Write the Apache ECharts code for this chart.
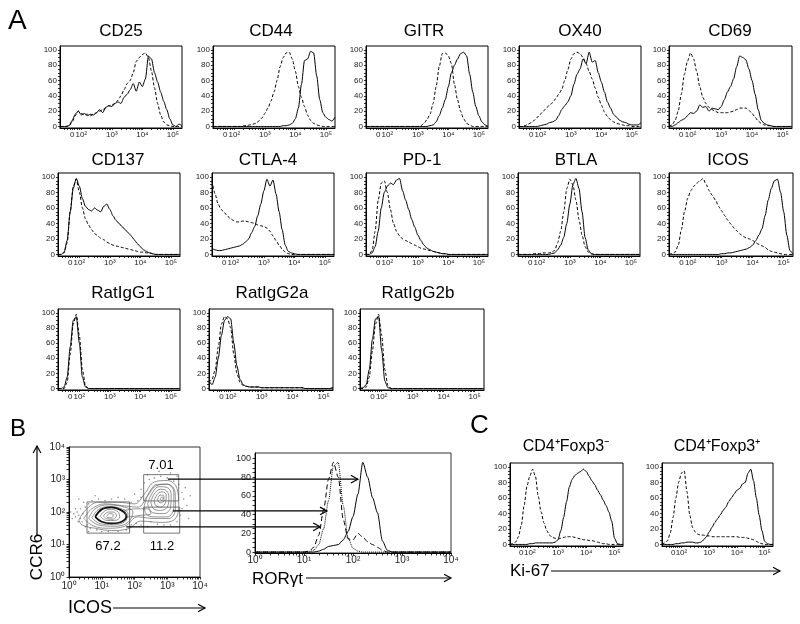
<!DOCTYPE html>
<html><head><meta charset="utf-8">
<script src="https://cdn.jsdelivr.net/npm/echarts@6/dist/echarts.min.js"></script>
<style>html,body{margin:0;padding:0;background:#fff}#c{width:800px;height:624px}</style>
</head><body><div id="c"></div>
<script>
// ---------- DATA ----------
// logicle display units (10^2 -> 2, 10^3 -> 3 ...), sampled every 0.1
const dGrid = [1.3,1.4,1.5,1.6,1.7,1.8,1.9,2.0,2.1,2.2,2.3,2.4,2.5,2.6,2.7,2.8,2.9,3.0,3.1,3.2,3.3,3.4,3.5,3.6,3.7,3.8,3.9,4.0,4.1,4.2,4.3,4.4,4.5,4.6,4.7,4.8,4.9,5.0,5.1,5.2,5.3];
const xLabelVals = [1.7, 2, 3, 4, 5];
const xLabelText = ['0', '10²', '10³', '10⁴', '10⁵'];
const yLabelVals = [0, 20, 40, 60, 80, 100];

const cd25Dash  = [0,0,0,1,6,14,20,17,15,16,14,16,18,20,22,24,27,28,30,34,40,48,56,60,70,85,90,94,96,90,72,50,30,15,6,2,1,0,0,0,0];
const cd25Solid = [0,0,0,1,8,16,20,15,17,14,16,15,18,22,18,25,27,26,30,32,30,38,42,48,56,46,58,52,62,92,88,70,58,45,33,22,10,2,0,3,1];
const cd44Dash  = [0,0,0,0,0,0,0,0,0,0,1,1,2,3,4,7,11,17,24,33,45,60,78,90,96,97,88,72,52,38,26,15,8,4,2,1,0,0,0,0,0];
const cd44Solid = [0,0,0,0,0,0,0,0,0,0,0,0,0,0,0,0,0,0,0,0,0,0,0,1,1,2,4,10,24,55,86,88,98,96,66,35,18,12,9,7,12];
const gitrDash  = [0,0,0,0,0,0,0,0,0,0,0,0,0,0,0,0,0,0,1,4,9,16,30,52,78,95,96,92,82,55,35,20,10,4,2,0,0,0,0,0,0];
const gitrSolid = [0,0,0,0,0,0,0,0,0,0,0,0,0,0,0,0,0,0,0,0,0,1,2,6,14,24,35,52,70,80,88,95,97,92,68,45,26,14,6,2,0];
const ox40Dash  = [0,0,1,3,5,8,12,16,20,24,28,31,36,42,48,60,74,88,95,97,95,90,82,72,62,50,38,28,19,13,9,6,4,3,2,1,1,0,0,0,0];
const ox40Solid = [0,0,0,0,0,0,0,1,2,3,5,6,8,14,22,27,32,40,55,68,75,88,82,97,84,86,70,58,45,32,24,16,12,8,6,5,3,2,2,2,5];
const cd69Dash  = [0,2,8,20,42,68,85,96,88,72,52,38,30,25,22,20,18,18,18,18,19,20,22,24,24,24,21,17,12,7,4,2,1,1,0,0,0,0,0,0,0];
const cd69Solid = [0,0,2,5,8,10,14,18,17,20,28,25,26,20,24,23,22,26,35,45,52,62,78,92,90,87,75,60,42,22,8,4,2,1,0,0,0,0,0,0,0];
const cd137Dash  = [0,0,2,15,55,88,97,80,60,46,38,32,27,24,21,19,16,14,12,11,10,9,8,7,6,5,4,3,3,2,2,1,0,0,0,0,0,0,0,0,0];
const cd137Solid = [0,0,3,18,55,85,98,88,72,62,58,56,60,57,55,62,65,58,50,44,40,36,32,28,24,19,14,10,6,4,2,1,0,0,0,0,0,0,0,0,0];
const ctla4Dash  = [95,78,65,58,54,50,46,44,42,42,43,43,42,41,40,38,37,36,34,30,24,18,12,7,3,1,0,0,0,0,0,0,0,0,0,0,0,0,0,0,0];
const ctla4Solid = [8,6,5,5,6,7,8,9,10,11,13,16,20,28,36,50,65,82,97,88,96,78,55,32,12,4,2,1,0,0,0,0,0,0,0,0,0,0,0,0,0];
const pd1Dash  = [0,0,5,30,70,92,95,80,58,40,30,24,20,18,16,14,12,10,8,7,6,5,4,3,2,1,1,0,0,0,0,0,0,0,0,0,0,0,0,0,0];
const pd1Solid = [0,0,2,10,30,60,80,88,92,90,96,98,82,70,58,45,35,25,18,12,8,6,4,3,2,1,1,0,0,0,0,0,0,0,0,0,0,0,0,0,0];
const btlaDash  = [0,0,0,0,0,1,1,1,2,2,2,3,5,15,30,55,85,97,90,70,45,25,10,3,1,0,0,0,0,0,0,0,0,0,0,0,0,0,0,0,0];
const btlaSolid = [0,0,0,0,0,0,0,0,0,0,0,1,2,6,12,22,40,65,90,98,85,55,22,6,1,0,0,0,0,0,0,0,0,0,0,0,0,0,0,0,0];
const icosDash  = [0,1,3,12,32,55,72,82,88,92,95,98,90,82,76,70,62,56,50,44,39,34,30,26,23,21,20,18,15,13,11,9,6,4,3,2,1,0,0,0,0];
const icosSolid = [0,0,0,0,0,0,0,0,0,0,0,0,0,0,0,0,0,1,1,2,2,3,4,5,6,7,9,12,18,25,33,50,70,85,95,97,80,55,25,5,0];
const igg1Dash  = [0,0,0,8,45,85,98,70,25,4,0,0,0,0,0,0,0,0,0,0,0,0,0,0,0,0,0,0,0,0,0,0,0,0,0,0,0,0,0,0,0];
const igg1Solid = [0,0,2,15,55,90,95,60,15,2,0,0,0,0,0,0,0,0,0,0,0,0,0,0,0,0,0,0,0,0,0,0,0,0,0,0,0,0,0,0,0];
const igg2aDash  = [8,12,25,55,85,95,92,80,45,20,8,4,3,2,2,2,2,1,1,1,1,1,1,1,1,1,1,1,1,1,1,0,0,0,0,0,0,0,0,0,1];
const igg2aSolid = [10,5,15,40,70,90,95,92,60,30,12,5,3,2,2,2,2,1,1,1,1,1,1,1,1,1,1,1,1,1,1,0,0,0,0,0,0,0,0,0,1];
const igg2bDash  = [0,0,2,15,50,85,98,70,25,4,0,0,0,0,0,0,0,0,0,0,0,0,0,0,0,0,0,0,0,0,0,0,0,0,0,0,0,0,0,0,0];
const igg2bSolid = [0,1,5,25,65,92,95,50,10,1,0,0,0,0,0,0,0,0,0,0,0,0,0,0,0,0,0,0,0,0,0,0,0,0,0,0,0,0,0,0,0];
const foxNegDash  = [0,1,3,10,25,50,75,88,97,88,62,42,28,18,12,9,8,7,8,9,10,10,10,9,8,7,6,6,5,5,4,3,2,1,1,0,0,0,0,0,0];
const foxNegSolid = [0,0,0,0,0,0,0,1,1,2,2,2,2,2,2,2,3,6,18,35,55,74,84,89,92,94,97,94,88,82,77,70,64,57,50,42,30,8,1,0,0];
const foxPosDash  = [0,2,5,15,35,60,80,92,95,68,38,22,16,13,12,12,11,11,10,10,10,10,10,10,10,10,10,10,9,9,9,8,7,6,4,2,1,0,0,0,0];
const foxPosSolid = [0,0,0,0,0,1,1,2,2,3,3,3,2,2,3,6,10,16,22,28,33,38,44,48,55,60,65,70,72,78,80,92,97,82,60,38,18,4,1,0,0];

// RORgt histogram, log10 units 0..4
const rorGrid = [0.0,0.1,0.2,0.3,0.4,0.5,0.6,0.7,0.8,0.9,1.0,1.1,1.2,1.3,1.4,1.5,1.6,1.7,1.8,1.9,2.0,2.1,2.2,2.3,2.4,2.5,2.6,2.7,2.8,2.9,3.0,3.1,3.2,3.3,3.4,3.5,3.6,3.7,3.8,3.9,4.0];
const rorDash  = [0,0,0,0,0,0,0,0,0,0,0,1,5,18,45,78,96,80,35,14,13,20,16,11,8,5,2,0,0,0,0,0,0,0,0,0,0,0,0,0,0];
const rorDot   = [0,0,0,0,0,0,0,0,0,0,0,0,2,8,25,55,92,96,50,15,4,1,0,0,0,0,0,0,0,0,0,0,0,0,0,0,0,0,0,0,0];
const rorSolid = [0,0,0,0,0,0,0,0,0,0,0,0,0,1,3,6,7,8,13,22,38,62,96,80,58,42,12,2,0,0,0,0,0,0,0,0,0,0,0,0,0];
const logLabelVals = [0,1,2,3,4];
const logLabelText = ['10⁰','10¹','10²','10³','10⁴'];

// contour plot (ICOS vs CCR6), log10 units
const cOuter1 = [[0.3,1.75],[0.5,2.05],[0.9,2.3],[1.5,2.3],[2.0,2.25],[2.3,2.55],[2.6,2.92],[3.0,2.97],[3.3,2.72],[3.35,2.2],[3.2,1.75],[2.8,1.68],[2.2,1.72],[1.8,1.48],[1.3,1.43],[0.8,1.5],[0.4,1.6]];
const cOuter2 = [[0.45,1.8],[0.7,2.1],[1.1,2.25],[1.6,2.2],[2.1,2.15],[2.4,2.5],[2.65,2.8],[3.0,2.86],[3.24,2.6],[3.25,2.1],[3.05,1.8],[2.6,1.8],[2.1,1.85],[1.7,1.56],[1.2,1.5],[0.75,1.57]];
const cLeft1 = [[0.6,1.8],[0.8,2.1],[1.2,2.22],[1.7,2.15],[1.95,2.0],[1.8,1.68],[1.4,1.56],[0.9,1.6]];
const cLeft2 = [[0.7,1.82],[0.9,2.08],[1.25,2.17],[1.6,2.1],[1.8,1.95],[1.7,1.7],[1.35,1.61],[0.95,1.64]];
const cLeft3 = [[0.8,1.85],[1.0,2.08],[1.3,2.14],[1.6,2.05],[1.75,1.88],[1.6,1.7],[1.3,1.65],[1.0,1.7]];
const cLeft4 = [[0.95,1.87],[1.1,2.04],[1.3,2.08],[1.5,2.0],[1.55,1.85],[1.4,1.74],[1.15,1.74]];
const cLeft5 = [[1.05,1.88],[1.2,2.0],[1.35,2.0],[1.45,1.9],[1.35,1.78],[1.15,1.79]];
const cLeft6 = [[1.15,1.88],[1.25,1.95],[1.35,1.92],[1.3,1.82],[1.18,1.83]];
const cBridge = [[1.7,2.05],[2.1,2.1],[2.4,2.1],[2.5,1.95],[2.2,1.9],[1.8,1.85]];
const cRight1 = [[2.3,2.2],[2.45,2.6],[2.7,2.85],[3.0,2.85],[3.2,2.6],[3.2,2.15],[3.0,1.85],[2.6,1.85],[2.35,1.95]];
const cRight2 = [[2.4,2.25],[2.55,2.6],[2.75,2.78],[3.0,2.75],[3.12,2.55],[3.1,2.15],[2.9,1.95],[2.55,1.98]];
const cRight3 = [[2.5,2.3],[2.6,2.55],[2.8,2.7],[2.98,2.65],[3.05,2.45],[3.0,2.15],[2.8,2.05],[2.58,2.1]];
const cRight4 = [[2.6,2.35],[2.7,2.55],[2.85,2.62],[2.97,2.52],[2.95,2.3],[2.8,2.15],[2.65,2.2]];
const cRight5 = [[2.7,2.38],[2.78,2.52],[2.9,2.5],[2.9,2.35],[2.78,2.28]];
const cRight6 = [[2.78,2.4],[2.84,2.47],[2.88,2.4],[2.82,2.36]];
const dotsX = [0.15,0.2,0.25,0.3,0.35,0.4,0.42,0.5,0.55,0.6,0.35,0.28,0.45,0.7,0.65,0.5,0.9,1.1,1.3,1.5,0.2,0.1,0.6,0.85,1.0,1.2,1.5,1.75,1.9,2.05,2.2,2.4,1.9,2.1,2.2,2.3,2.45,2.6,2.8,3.0,3.2,3.35,3.45,3.5,3.45,3.4,3.3,3.1,2.9,2.7,2.5,3.6,3.55,3.1,2.4,2.2,1.7,0.8,0.05,0.3,3.7,3.65,2.0,2.75,3.3];
const dotsY = [1.95,1.85,2.0,1.9,2.1,1.7,1.95,2.15,1.6,2.25,1.8,1.7,2.3,2.35,1.5,1.55,2.4,2.35,2.4,2.45,2.1,1.8,1.4,1.45,1.4,1.4,1.4,1.45,1.6,1.65,1.6,1.55,2.3,2.35,2.7,2.9,3.0,3.05,3.1,3.05,2.95,2.85,2.6,2.4,2.1,1.9,1.7,1.6,1.6,1.62,1.7,2.2,2.75,3.2,3.15,2.45,2.4,2.5,2.0,2.4,2.5,1.8,2.55,3.25,3.1];
const gateX0 = [0.55, 2.28, 2.28];
const gateX1 = [1.85, 3.35, 3.38];
const gateY0 = [1.35, 2.34, 1.35];
const gateY1 = [2.31, 3.15, 2.15];
const gateLabels = ['67.2', '7.01', '11.2'];
// arrows from gates into RORgt histogram
const arrowFromX = [3.02, 3.17, 1.75];
const arrowToX = [2.1, 1.47, 1.33];
const arrowLevel = [78, 44, 27];

// ---------- LAYOUT ----------
const FONT = '"Liberation Sans", Arial, Helvetica, sans-serif';
const panels = [
  {t:'CD25',  l:60,  tp:46, w:122, h:82, tx:121, ty:31, s:cd25Solid, d:cd25Dash},
  {t:'CD44',  l:213, tp:46, w:122, h:82, tx:271, ty:31, s:cd44Solid, d:cd44Dash},
  {t:'GITR',  l:366, tp:46, w:122, h:82, tx:424, ty:31, s:gitrSolid, d:gitrDash},
  {t:'OX40',  l:519, tp:46, w:122, h:82, tx:580, ty:31, s:ox40Solid, d:ox40Dash},
  {t:'CD69',  l:669, tp:46, w:123, h:82, tx:730, ty:31, s:cd69Solid, d:cd69Dash},
  {t:'CD137', l:58,  tp:173, w:122, h:83, tx:118, ty:160, s:cd137Solid, d:cd137Dash},
  {t:'CTLA-4',l:212, tp:173, w:122, h:83, tx:268, ty:160, s:ctla4Solid, d:ctla4Dash},
  {t:'PD-1',  l:366, tp:173, w:122, h:83, tx:422, ty:160, s:pd1Solid, d:pd1Dash},
  {t:'BTLA',  l:518, tp:173, w:122, h:83, tx:576, ty:160, s:btlaSolid, d:btlaDash},
  {t:'ICOS',  l:669, tp:173, w:124, h:83, tx:728, ty:160, s:icosSolid, d:icosDash},
  {t:'RatIgG1', l:58,  tp:309, w:122, h:81, tx:123, ty:293, s:igg1Solid, d:igg1Dash},
  {t:'RatIgG2a',l:209, tp:309, w:124, h:81, tx:272, ty:293, s:igg2aSolid, d:igg2aDash},
  {t:'RatIgG2b',l:360, tp:309, w:124, h:81, tx:418, ty:293, s:igg2bSolid, d:igg2bDash},
  {t:'CD4⁺Foxp3⁻', l:510, tp:463, w:113, h:83, tx:566, ty:447, s:foxNegSolid, d:foxNegDash, fs:16},
  {t:'CD4⁺Foxp3⁺', l:662, tp:463, w:111, h:83, tx:717, ty:447, s:foxPosSolid, d:foxPosDash, fs:16}
];

const logicleTicks = [1.45,1.55,1.62,1.7,1.78,1.85,1.92];
[2,3,4].forEach(n => { for (let k=1;k<=9;k++) logicleTicks.push(n + Math.log10(k)); });
logicleTicks.push(5);
const logTicks = [];
[0,1,2,3].forEach(n => { for (let k=1;k<=9;k++) logTicks.push(n + Math.log10(k)); });
logTicks.push(4);
const yTicks = []; for (let v=0; v<=100; v+=5) yTicks.push(v);

function labelFmt(vals, texts) {
  return v => { for (let i=0;i<vals.length;i++) if (Math.abs(v-vals[i])<1e-6) return texts[i]; return ''; };
}

const grids=[], xAxes=[], yAxes=[], series=[];
function addGrid(l, t, w, h, border) {
  grids.push({left:l, top:t, width:w, height:h, show:true, borderColor:border||'#000', borderWidth:1, backgroundColor:'transparent'});
  return grids.length-1;
}
function axisBase(gi, extra) {
  return Object.assign({gridIndex:gi, type:'value', splitLine:{show:false},
    axisLine:{show:true, onZero:false, lineStyle:{color:'#000', width:1}}}, extra);
}

panels.forEach(p => {
  const gi = addGrid(p.l, p.tp, p.w, p.h);
  xAxes.push(axisBase(gi, {min:1.3, max:5.3,
    axisTick:{show:true, customValues:logicleTicks, length:2, lineStyle:{color:'#000', width:0.8}},
    axisLabel:{show:true, customValues:xLabelVals, formatter:labelFmt(xLabelVals, xLabelText), fontSize:8, color:'#222', margin:3, fontFamily:FONT}}));
  yAxes.push(axisBase(gi, {min:-2, max:105,
    axisTick:{show:true, customValues:yTicks, length:2, lineStyle:{color:'#000', width:0.8}},
    axisLabel:{show:true, customValues:yLabelVals, fontSize:8, color:'#222', margin:3, fontFamily:FONT}}));
  series.push({type:'line', xAxisIndex:gi, yAxisIndex:gi, data:dGrid.map((x,i)=>[x,p.d[i]]), showSymbol:false, symbol:'none',
    smooth:0.25, smoothMonotone:'x', lineStyle:{color:'#000', width:1, type:[3,2]}, z:2, silent:true});
  series.push({type:'line', xAxisIndex:gi, yAxisIndex:gi, data:dGrid.map((x,i)=>[x,p.s[i]]), showSymbol:false, symbol:'none',
    smooth:0.25, smoothMonotone:'x', lineStyle:{color:'#000', width:1}, z:3, silent:true});
});

// Contour plot
const CG = addGrid(69, 447, 131, 130, '#333');
xAxes.push(axisBase(CG, {min:0, max:4,
  axisTick:{show:true, customValues:logTicks, length:2.5, lineStyle:{color:'#000', width:0.8}},
  axisLabel:{show:true, customValues:logLabelVals, formatter:labelFmt(logLabelVals, logLabelText), fontSize:10, color:'#222', margin:4, fontFamily:FONT}}));
yAxes.push(axisBase(CG, {min:0, max:4,
  axisTick:{show:true, customValues:logTicks, length:2.5, lineStyle:{color:'#000', width:0.8}},
  axisLabel:{show:true, customValues:logLabelVals, formatter:labelFmt(logLabelVals, logLabelText), fontSize:10, color:'#222', margin:4, fontFamily:FONT}}));
series.push({type:'scatter', xAxisIndex:CG, yAxisIndex:CG, data:dotsX.map((x,i)=>[x,dotsY[i]]), symbolSize:1.6, itemStyle:{color:'#777'}, silent:true});
const contourList = [cOuter1,cOuter2,cLeft1,cLeft2,cLeft3,cLeft4,cLeft5,cLeft6,cBridge,cRight1,cRight2,cRight3,cRight4,cRight5,cRight6];
contourList.forEach(c => {
  const thick = (c === cLeft3);
  series.push({type:'line', xAxisIndex:CG, yAxisIndex:CG, data:c.concat([c[0]]), showSymbol:false, symbol:'none', smooth:0.4,
    lineStyle:{color: thick ? '#111' : '#666', width: thick ? 1.8 : 0.7}, silent:true, z:3});
});
gateX0.forEach((x0,i) => {
  const x1=gateX1[i], y0=gateY0[i], y1=gateY1[i];
  series.push({type:'line', xAxisIndex:CG, yAxisIndex:CG, data:[[x0,y0],[x1,y0],[x1,y1],[x0,y1],[x0,y0]], showSymbol:false, symbol:'none',
    lineStyle:{color:'#555', width:0.8}, silent:true, z:4});
});

// RORgt histogram
const RG = addGrid(255, 453, 196, 100, '#333');
xAxes.push(axisBase(RG, {min:0, max:4,
  axisTick:{show:true, customValues:logTicks, length:2.5, lineStyle:{color:'#000', width:0.8}},
  axisLabel:{show:true, customValues:logLabelVals, formatter:labelFmt(logLabelVals, logLabelText), fontSize:10, color:'#222', margin:2, fontFamily:FONT}}));
yAxes.push(axisBase(RG, {min:-1, max:106,
  axisTick:{show:true, customValues:yTicks, length:2.5, lineStyle:{color:'#000', width:0.8}},
  axisLabel:{show:true, customValues:yLabelVals, fontSize:9, color:'#222', margin:4, fontFamily:FONT}}));
[[rorDash,[5,3]],[rorDot,'dotted'],[rorSolid,'solid']].forEach(([arr,tp]) => {
  series.push({type:'line', xAxisIndex:RG, yAxisIndex:RG, data:rorGrid.map((x,i)=>[x,arr[i]]), showSymbol:false, symbol:'none',
    smooth:0.25, smoothMonotone:'x', lineStyle:{color:'#000', width:1, type:tp}, silent:true});
});

const chart = echarts.init(document.getElementById('c'), null, {renderer:'canvas'});
chart.setOption({animation:false, backgroundColor:'#fff', grid:grids, xAxis:xAxes, yAxis:yAxes, series:series});

// ---------- annotations ----------
const g = [];
function txt(text, x, y, size, align, rot) {
  g.push({type:'text', x:x, y:y, rotation:rot||0, silent:true, z:100,
    style:{text:text, font:'normal ' + size + 'px ' + FONT, fill:'#000', textAlign:align||'center', textVerticalAlign:'middle'}});
}
function arrow(x1,y1,x2,y2,w) {
  const ang = Math.atan2(y2-y1, x2-x1), L=8, A=0.5;
  g.push({type:'line', silent:true, z:100, shape:{x1:x1,y1:y1,x2:x2,y2:y2}, style:{stroke:'#000', lineWidth:w||1.2}});
  g.push({type:'polyline', silent:true, z:100, shape:{points:[[x2-L*Math.cos(ang-A), y2-L*Math.sin(ang-A)],[x2,y2],[x2-L*Math.cos(ang+A), y2-L*Math.sin(ang+A)]]},
    style:{stroke:'#000', fill:null, lineWidth:w||1.2}});
}
panels.forEach(p => txt(p.t, p.tx, p.ty, p.fs || 17));
txt('A', 8, 21, 28, 'left');
txt('B', 10, 429, 24, 'left');
txt('C', 470, 426, 26, 'left');
// gate percentages
const gateLabelPos = [[108,546],[161,465],[162,546]];
gateLabels.forEach((s,i) => txt(s, gateLabelPos[i][0], gateLabelPos[i][1], 13));
// axis titles with arrows
txt('CCR6', 37, 557, 17, 'center', Math.PI/2);
arrow(37, 536, 37, 446);
txt('ICOS', 68, 608, 18, 'left');
arrow(113, 608, 205, 608);
txt('RORγt', 252, 579, 17, 'left');
arrow(306, 578, 451, 578);
txt('Ki-67', 510, 571, 17, 'left');
arrow(551, 571, 780, 571);
// gate -> histogram arrows
for (let i=0;i<arrowFromX.length;i++) {
  const x1 = chart.convertToPixel({xAxisIndex:CG}, arrowFromX[i]);
  const x2 = chart.convertToPixel({xAxisIndex:RG}, arrowToX[i]);
  const y  = chart.convertToPixel({yAxisIndex:RG}, arrowLevel[i]);
  arrow(x1, y, x2, y, 1.2);
}
chart.setOption({graphic:g});
</script></body></html>
